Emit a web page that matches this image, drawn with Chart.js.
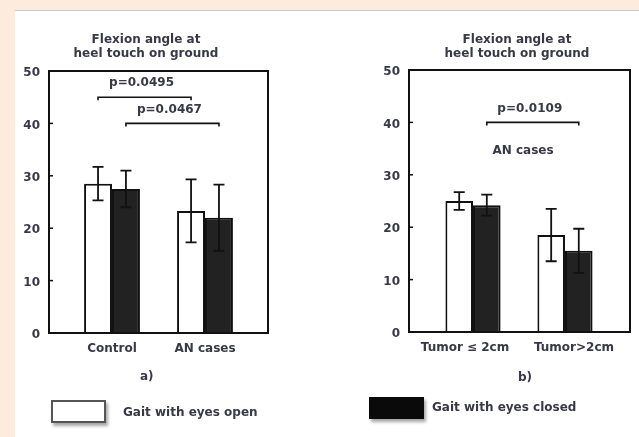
<!DOCTYPE html>
<html>
<head>
<meta charset="utf-8">
<script src="https://cdn.jsdelivr.net/npm/chart.js@4.4.1/dist/chart.umd.min.js"></script>
<style>
  body { margin: 0; width: 639px; height: 437px; background: #fff; position: relative; overflow: hidden;
         font-family: 'DejaVu Sans', sans-serif; font-weight: bold; color: #383848; }
  .peach-top { position: absolute; left: 0; top: 0; width: 639px; height: 10px; background: #fdecdd; }
  .peach-left { position: absolute; left: 0; top: 0; width: 15px; height: 437px; background: #fdecdd; }
  .rule { position: absolute; left: 15px; top: 10px; width: 624px; height: 1px; background: #c8c8c8; }
  canvas { position: absolute; top: 0; }
  .title { position: absolute; top: 32px; width: 240px; text-align: center; font-size: 12px; line-height: 14px; }
  .cap { position: absolute; font-size: 12px; }
  .box { position: absolute; width: 55px; height: 23px; box-sizing: border-box; box-shadow: 2px 3px 3px rgba(0,0,0,0.35); }
  .legtext { position: absolute; font-size: 12px; }
</style>
</head>
<body>
<div class="peach-top"></div>
<div class="peach-left"></div>
<div class="rule"></div>

<canvas id="left" width="320" height="437" style="left:0"></canvas>
<canvas id="right" width="319" height="437" style="left:320px"></canvas>

<div class="title" style="left:26px">Flexion angle at<br>heel touch on ground</div>
<div class="title" style="left:397px">Flexion angle at<br>heel touch on ground</div>
<div class="cap" style="left:140px;top:369px">a)</div>
<div class="cap" style="left:518px;top:370px">b)</div>

<div class="box" style="left:51px;top:400px;background:#fff;border:2px solid #555"></div>
<div class="legtext" style="left:123px;top:405px">Gait with eyes open</div>
<div class="box" style="left:369px;top:397px;background:#0a0a0a;height:22px"></div>
<div class="legtext" style="left:432px;top:400px">Gait with eyes closed</div>

<script>
// panel a)
const leftCats = ['Control', 'AN cases'];
const leftOpen = [28.5, 23.3];
const leftOpenErr = [3.2, 6.0];
const leftClosed = [27.5, 22.0];
const leftClosedErr = [3.5, 6.3];
const leftBrackets = [
  { set: 0, from: 0, to: 1, y: 45, text: 'p=0.0495' },
  { set: 1, from: 0, to: 1, y: 40, text: 'p=0.0467' }
];
const leftNotes = [];

// panel b)
const rightCats = ['Tumor \u2264 2cm', 'Tumor>2cm'];
const rightOpen = [25.0, 18.5];
const rightOpenErr = [1.7, 5.0];
const rightClosed = [24.2, 15.5];
const rightClosedErr = [2.0, 4.2];
const rightBrackets = [
  { set: 1, from: 0, to: 1, y: 40, text: 'p=0.0109' }
];
const rightNotes = [{ x: 0.5, y: 34.5, text: 'AN cases' }];

const yTicks = [0, 10, 20, 30, 40, 50];

Chart.defaults.font.family = "'DejaVu Sans', sans-serif";
Chart.defaults.font.size = 12;
Chart.defaults.font.weight = 'bold';
Chart.defaults.color = '#383848';

const extras = {
  id: 'extras',
  afterDatasetsDraw(chart) {
    const ctx = chart.ctx;
    const xs = chart.scales.x, ys = chart.scales.y;
    const area = chart.chartArea;
    const opts = chart.options.plugins.extras;
    ctx.save();
    ctx.strokeStyle = '#111';
    ctx.fillStyle = '#383848';

    // error bars
    ctx.lineWidth = 1.8;
    chart.data.datasets.forEach((ds, i) => {
      const meta = chart.getDatasetMeta(i);
      meta.data.forEach((bar, j) => {
        const v = ds.data[j].y, e = ds.errors[j];
        const top = ys.getPixelForValue(v + e), bot = ys.getPixelForValue(v - e);
        ctx.beginPath();
        ctx.moveTo(bar.x, top); ctx.lineTo(bar.x, bot);
        ctx.moveTo(bar.x - 5.5, top); ctx.lineTo(bar.x + 5.5, top);
        ctx.moveTo(bar.x - 5.5, bot); ctx.lineTo(bar.x + 5.5, bot);
        ctx.stroke();
      });
    });

    // significance brackets
    ctx.lineWidth = 1.6;
    ctx.textAlign = 'center';
    ctx.textBaseline = 'middle';
    ctx.font = "bold 12px 'DejaVu Sans'";
    opts.brackets.forEach(b => {
      const meta = chart.getDatasetMeta(b.set);
      const x1 = meta.data[b.from].x, x2 = meta.data[b.to].x;
      const y = ys.getPixelForValue(b.y);
      ctx.beginPath();
      ctx.moveTo(x1, y + 3); ctx.lineTo(x1, y); ctx.lineTo(x2, y); ctx.lineTo(x2, y + 3);
      ctx.stroke();
      ctx.fillText(b.text, (x1 + x2) / 2 - 3, y - 14);
    });
    opts.notes.forEach(n => {
      ctx.fillText(n.text, xs.getPixelForValue(n.x) + 4, ys.getPixelForValue(n.y));
    });

    // category labels under the bars
    ctx.textBaseline = 'top';
    opts.cats.forEach((c, i) => {
      ctx.fillText(c, xs.getPixelForValue(i) + opts.labelShift[i], area.bottom + 10);
    });

    // frame and inward ticks
    ctx.lineWidth = 2;
    ctx.strokeRect(area.left, area.top, area.right - area.left, area.bottom - area.top);
    ctx.lineWidth = 1.5;
    yTicks.forEach(t => {
      const y = ys.getPixelForValue(t);
      ctx.beginPath();
      ctx.moveTo(area.left, y); ctx.lineTo(area.left + 4, y);
      ctx.stroke();
    });
    ctx.restore();
  }
};

function makeChart(id, cats, open, openErr, closed, closedErr, brackets, notes, box) {
  return new Chart(document.getElementById(id), {
    type: 'bar',
    data: {
      datasets: [
        {
          label: 'Gait with eyes open',
          data: open.map((v, i) => ({ x: i, y: v })),
          errors: openErr,
          backgroundColor: '#ffffff',
          borderColor: '#111',
          borderWidth: 2
        },
        {
          label: 'Gait with eyes closed',
          data: closed.map((v, i) => ({ x: i, y: v })),
          errors: closedErr,
          backgroundColor: '#222222',
          borderColor: '#111',
          borderWidth: 2
        }
      ]
    },
    options: {
      responsive: false,
      animation: false,
      categoryPercentage: 0.6,
      barPercentage: 1.0,
      layout: { padding: { left: 0, right: box.right, top: box.top, bottom: 0 } },
      plugins: {
        legend: { display: false },
        tooltip: { enabled: false },
        extras: { brackets: brackets, notes: notes, cats: cats, labelShift: box.labelShift }
      },
      scales: {
        x: {
          type: 'linear',
          offset: false,
          min: box.xMin,
          max: box.xMax,
          afterBuildTicks: s => { s.ticks = cats.map((c, i) => ({ value: i })); },
          afterFit: s => { s.height = box.xh; },
          grid: { display: false, drawTicks: false, offset: false },
          border: { display: false },
          ticks: { display: false }
        },
        y: {
          min: 0,
          max: 50,
          afterBuildTicks: s => { s.ticks = yTicks.map(v => ({ value: v })); },
          afterFit: s => { s.width = box.yw; },
          grid: { display: false, drawTicks: false },
          border: { display: false },
          ticks: { padding: 9, labelOffset: 2 }
        }
      }
    },
    plugins: [extras]
  });
}

makeChart('left', leftCats, leftOpen, leftOpenErr, leftClosed, leftClosedErr, leftBrackets, leftNotes,
  { yw: 49, right: 52, top: 71, xh: 104, xMin: -0.677, xMax: 1.677, labelShift: [0, 0] });
makeChart('right', rightCats, rightOpen, rightOpenErr, rightClosed, rightClosedErr, rightBrackets, rightNotes,
  { yw: 89, right: 9, top: 70, xh: 105, xMin: -0.696, xMax: 1.707, labelShift: [-8, 9] });
</script>
</body>
</html>
